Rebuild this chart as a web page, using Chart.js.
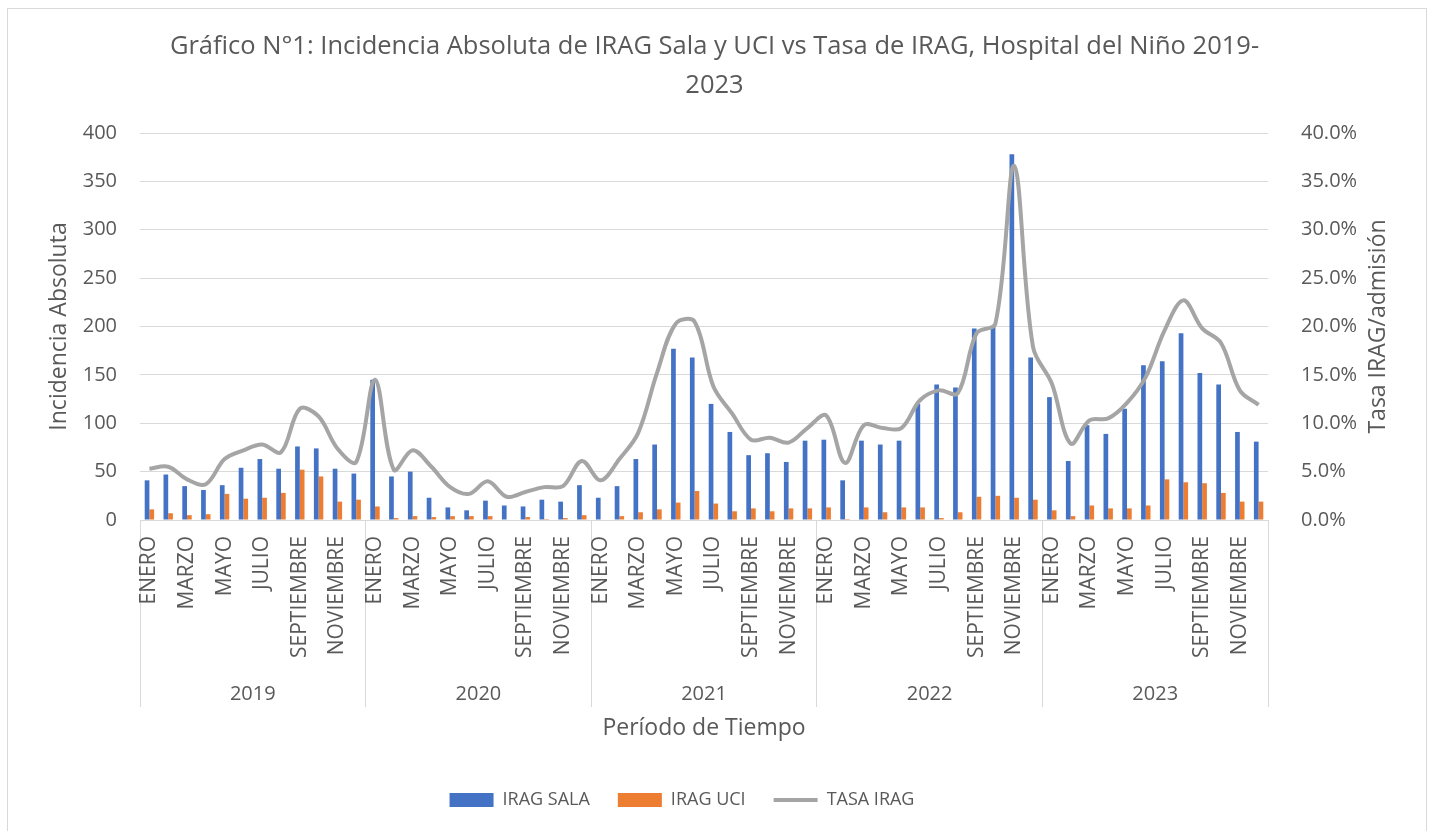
<!DOCTYPE html>
<html>
<head>
<meta charset="utf-8">
<script src="https://cdn.jsdelivr.net/npm/chart.js@4.4.1/dist/chart.umd.min.js"></script>
<style>
  html, body { margin: 0; padding: 0; background: #fff; overflow: hidden; }
  #wrap { position: relative; width: 1429px; height: 831px; }
  #frame { position: absolute; left: 7px; top: 8px; width: 1418px; height: 900px;
           border: 1px solid #D9D9D9; pointer-events: none; }
</style>
</head>
<body>
<div id="wrap">
  <canvas id="irag" width="1429" height="831"></canvas>
  <div id="frame"></div>
</div>
<script>
const months = ['ENERO', 'FEBRERO', 'MARZO', 'ABRIL', 'MAYO', 'JUNIO', 'JULIO',
  'AGOSTO', 'SEPTIEMBRE', 'OCTUBRE', 'NOVIEMBRE', 'DICIEMBRE'];
const years = ['2019', '2020', '2021', '2022', '2023'];

// IRAG SALA (cases per month)
const iragSala = [
  41, 47, 35, 31, 36, 54, 63, 53, 76, 74, 53, 48,
  145, 45, 50, 23, 13, 10, 20, 15, 14, 21, 19, 36,
  23, 35, 63, 78, 177, 168, 120, 91, 67, 69, 60, 82,
  83, 41, 82, 78, 82, 120, 140, 137, 198, 200, 378, 168,
  127, 61, 98, 89, 115, 160, 164, 193, 152, 140, 91, 81
];

// IRAG UCI
const iragUci = [
  11, 7, 5, 6, 27, 22, 23, 28, 52, 45, 19, 21,
  14, 2, 4, 3, 4, 4, 4, 0, 3, 1, 2, 5,
  0, 4, 8, 11, 18, 30, 17, 9, 12, 9, 12, 12,
  13, 1, 13, 8, 13, 13, 2, 8, 24, 25, 23, 21,
  10, 4, 15, 12, 12, 15, 42, 39, 38, 28, 19, 19
];

// TASA IRAG (% of admissions)
const tasaIrag = [
  5.3, 5.5, 4.2, 3.7, 6.3, 7.2, 7.8, 7.0, 11.5, 10.7, 7.4, 6.0,
  14.5, 5.2, 7.2, 5.5, 3.4, 2.7, 4.0, 2.4, 2.9, 3.4, 3.5, 6.1,
  4.1, 6.3, 9.0, 15.2, 20.3, 20.5, 13.8, 11.0, 8.3, 8.5, 8.0, 9.5,
  10.8, 5.9, 9.8, 9.5, 9.5, 12.4, 13.4, 13.1, 19.3, 20.3, 36.6, 17.9,
  14.1, 7.9, 10.3, 10.5, 12.1, 14.8, 19.6, 22.7, 19.8, 18.3, 13.4, 11.9
];

const labels = years.flatMap(() => months);

const txt = '#595959';
const grid = '#D9D9D9';
const fam = "'Open Sans', sans-serif";

// right axis title reads bottom-to-top like Excel; legend nudged left like the original
const extras = {
  id: 'extras',
  afterLayout(chart) {
    chart.legend.left -= 22;
    chart.legend.right -= 22;
  },
  afterDraw(chart) {
    const y1 = chart.scales.y1;
    const ctx = chart.ctx;
    ctx.save();
    ctx.translate(y1.right - 51, (chart.chartArea.top + chart.chartArea.bottom) / 2);
    ctx.rotate(-Math.PI / 2);
    ctx.font = '23px ' + fam;
    ctx.fillStyle = txt;
    ctx.textAlign = 'center';
    ctx.textBaseline = 'middle';
    ctx.fillText('Tasa IRAG/admisión', 0, 0);
    ctx.restore();
  }
};

window.onload = function() {
  const ctx = document.getElementById('irag').getContext('2d');
  new Chart(ctx, {
    type: 'bar',
    data: {
      labels: labels,
      datasets: [{
        label: 'IRAG SALA',
        data: iragSala,
        backgroundColor: '#4472C4',
        borderWidth: 0,
        pointStyle: 'rect',
        categoryPercentage: 0.5,
        barPercentage: 1.0,
        yAxisID: 'y',
        order: 1
      }, {
        label: 'IRAG UCI',
        data: iragUci,
        backgroundColor: '#ED7D31',
        borderWidth: 0,
        pointStyle: 'rect',
        categoryPercentage: 0.5,
        barPercentage: 1.0,
        yAxisID: 'y',
        order: 1
      }, {
        type: 'line',
        label: 'TASA IRAG',
        data: tasaIrag,
        borderColor: '#A5A5A5',
        backgroundColor: '#A5A5A5',
        borderWidth: 4,
        tension: 0.35,
        pointRadius: 0,
        pointStyle: 'line',
        pointBorderWidth: 4,
        pointBorderColor: '#A5A5A5',
        yAxisID: 'y1',
        order: 0
      }]
    },
    options: {
      responsive: false,
      animation: false,
      layout: { padding: { left: 0, right: 0, top: 0, bottom: 12 } },
      plugins: {
        tooltip: { enabled: false },
        title: {
          display: true,
          text: ['Gráfico N°1: Incidencia Absoluta de IRAG Sala y UCI vs Tasa de IRAG, Hospital del Niño 2019-', '2023'],
          color: txt,
          font: { family: fam, size: 25.5, weight: 'normal', lineHeight: 39 / 25.5 },
          padding: { top: 27.5, bottom: 27.5 }
        },
        legend: {
          position: 'bottom',
          fullSize: false,
          labels: {
            color: txt,
            font: { family: fam, size: 18 },
            usePointStyle: true,
            pointStyleWidth: 44,
            boxHeight: 14,
            padding: 28,
            sort: (a, b) => a.datasetIndex - b.datasetIndex
          }
        }
      },
      scales: {
        x: {
          offset: true,
          grid: {
            offset: true,
            drawOnChartArea: false,
            drawTicks: true,
            tickLength: 152,
            color: (c) => (c.index === undefined || c.index % 12 === 0) ? grid : 'rgba(0,0,0,0)'
          },
          border: { display: true, color: grid },
          ticks: {
            autoSkip: false,
            minRotation: 90,
            maxRotation: 90,
            padding: -136,
            color: txt,
            font: { family: fam, size: 21 },
            callback: (v, i) => i % 2 === 0 ? labels[i] : ''
          },
          afterFit: (s) => { s.height = 152; }
        },
        x2: {
          type: 'category',
          labels: years,
          position: 'bottom',
          weight: 1,
          offset: true,
          grid: {
            offset: true,
            drawOnChartArea: false,
            drawTicks: true,
            tickLength: 35,
            color: grid
          },
          border: { display: false },
          ticks: {
            padding: -25,
            color: txt,
            font: { family: fam, size: 20 }
          },
          title: {
            display: true,
            text: 'Período de Tiempo',
            color: txt,
            font: { family: fam, size: 23 },
            padding: { top: 0, bottom: 21 }
          },
          afterFit: (s) => { s.height = 91; }
        },
        y: {
          position: 'left',
          min: 0,
          max: 400,
          grid: { color: grid, drawTicks: false },
          border: { display: false },
          ticks: {
            stepSize: 50,
            padding: 23,
            color: txt,
            font: { family: fam, size: 20 }
          },
          title: {
            display: true,
            text: 'Incidencia Absoluta',
            color: txt,
            font: { family: fam, size: 23 },
            padding: { top: 46, bottom: 0 }
          },
          afterFit: (s) => { s.width = 140; }
        },
        y1: {
          position: 'right',
          min: 0,
          max: 40,
          grid: { display: false, drawOnChartArea: false },
          border: { display: false },
          ticks: {
            stepSize: 5,
            padding: 25,
            color: txt,
            font: { family: fam, size: 20 },
            callback: (v) => v.toFixed(1) + '%'
          },
          afterFit: (s) => { s.width = 161; }
        }
      }
    },
    plugins: [extras]
  });
};
</script>
</body>
</html>
